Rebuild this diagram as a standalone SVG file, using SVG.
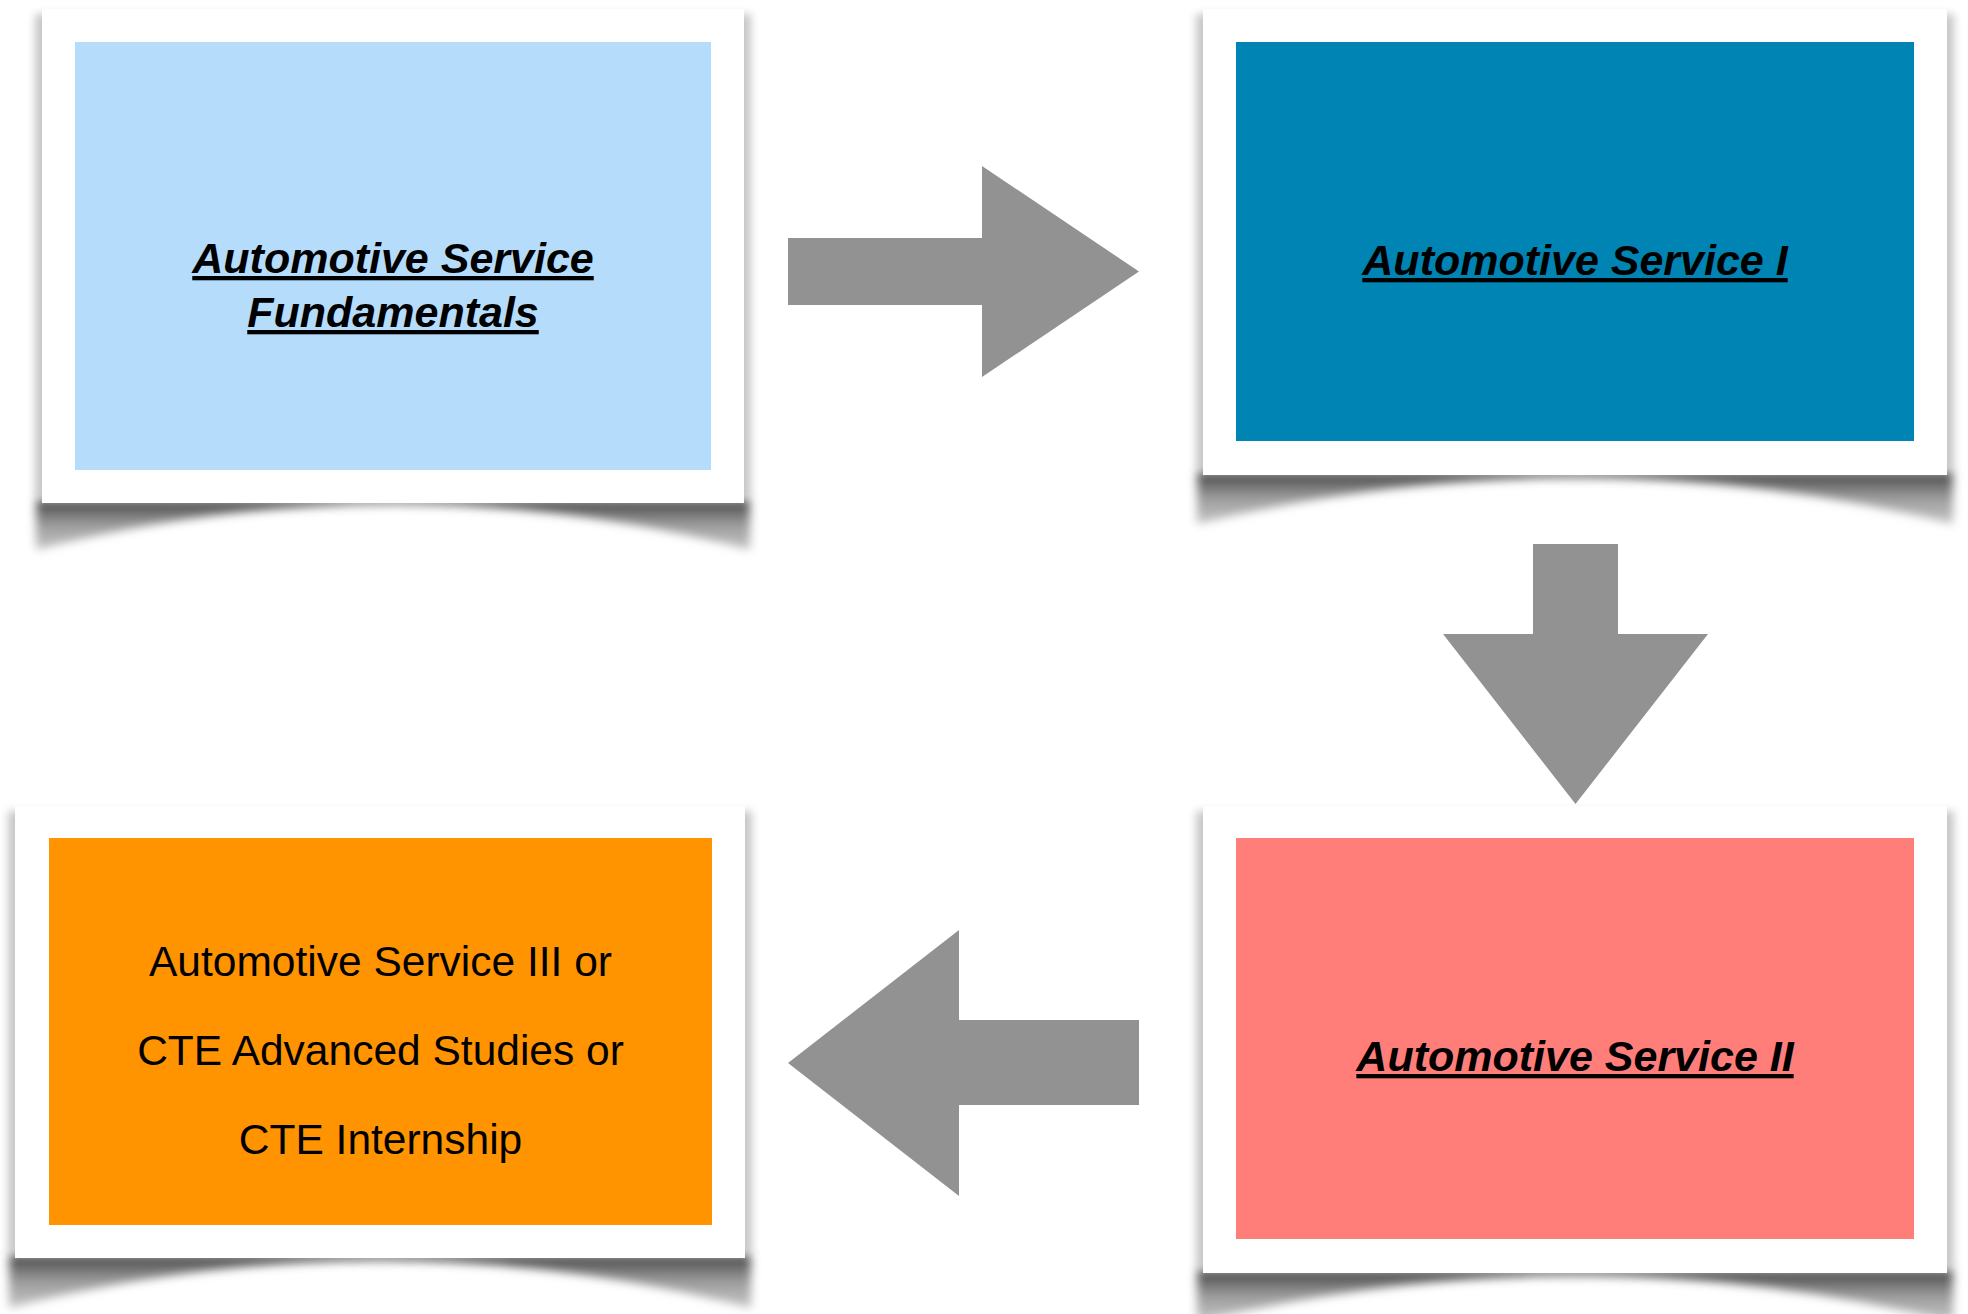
<svg xmlns="http://www.w3.org/2000/svg" width="1968" height="1314" viewBox="0 0 1968 1314">
  <style>
    .frame { fill: #ffffff; }
    .side { fill: #000000; opacity: 0.22; }
    .curl { fill: url(#curlGrad); }
    .arrow { fill: #929292; }
    .lbl { font-family: "Liberation Sans", Arial, Helvetica, sans-serif; font-size: 43px; font-weight: bold; font-style: italic; text-decoration: underline; text-anchor: middle; fill: #000000; }
    .plain { font-family: "Liberation Sans", Arial, Helvetica, sans-serif; font-size: 42.5px; text-anchor: middle; fill: #000000; }
  </style>
  <defs>
    <linearGradient id="curlGrad" x1="0" y1="0" x2="0" y2="1">
      <stop offset="0" stop-color="#444444"/>
      <stop offset="0.5" stop-color="#9c9c9c"/>
      <stop offset="1" stop-color="#c6c6c6"/>
    </linearGradient>
    <filter id="blurCurl" x="-10%" y="-50%" width="120%" height="200%">
      <feGaussianBlur stdDeviation="5"/>
    </filter>
    <filter id="blurSide" x="-10%" y="-10%" width="120%" height="120%">
      <feGaussianBlur stdDeviation="4"/>
    </filter>
  </defs>
  <rect width="1968" height="1314" fill="#ffffff"/>

  <g id="node-fundamentals">
    <rect class="side" filter="url(#blurSide)" x="35" y="14" width="716" height="484"/>
    <path class="curl" filter="url(#blurCurl)" d="M36,500 L36,550 Q393,458 750,550 L750,500 Z"/>
    <rect class="frame" x="42" y="9" width="702" height="494"/>
    <rect x="75" y="42" width="636" height="428" fill="#b5dcfa"/>
    <text class="lbl" x="393" y="273">Automotive Service</text>
    <text class="lbl" x="393" y="327">Fundamentals</text>
  </g>

  <g id="node-service-1">
    <rect class="side" filter="url(#blurSide)" x="1196" y="14" width="758" height="456"/>
    <path class="curl" filter="url(#blurCurl)" d="M1197,472 L1197,524 Q1575,431 1953,524 L1953,472 Z"/>
    <rect class="frame" x="1203" y="9" width="744" height="466"/>
    <rect x="1236" y="42" width="678" height="399" fill="#0084b4"/>
    <text class="lbl" x="1575" y="275">Automotive Service I</text>
  </g>

  <g id="node-service-3">
    <rect class="side" filter="url(#blurSide)" x="8" y="811" width="744" height="442"/>
    <path class="curl" filter="url(#blurCurl)" d="M9,1255 L9,1308 Q380,1213 751,1308 L751,1255 Z"/>
    <rect class="frame" x="15" y="806" width="730" height="452"/>
    <rect x="49" y="838" width="663" height="387" fill="#ff9300"/>
    <text class="plain" x="380.5" y="976">Automotive Service III or</text>
    <text class="plain" x="380.5" y="1065">CTE Advanced Studies or</text>
    <text class="plain" x="380.5" y="1154">CTE Internship</text>
  </g>

  <g id="node-service-2">
    <rect class="side" filter="url(#blurSide)" x="1196" y="811" width="758" height="457"/>
    <path class="curl" filter="url(#blurCurl)" d="M1197,1270 L1197,1322 Q1575,1229 1953,1322 L1953,1270 Z"/>
    <rect class="frame" x="1203" y="806" width="744" height="467"/>
    <rect x="1236" y="838" width="678" height="401" fill="#ff7e79"/>
    <text class="lbl" x="1575" y="1071">Automotive Service II</text>
  </g>

  <g id="connectors">
    <polygon class="arrow" points="788,238 982,238 982,166 1139,271.5 982,377 982,305 788,305"/>
    <polygon class="arrow" points="1533,544 1618,544 1618,634 1708,634 1575.5,804 1443,634 1533,634"/>
    <polygon class="arrow" points="1139,1020 959,1020 959,930 788,1063 959,1196 959,1105 1139,1105"/>
  </g>
</svg>
